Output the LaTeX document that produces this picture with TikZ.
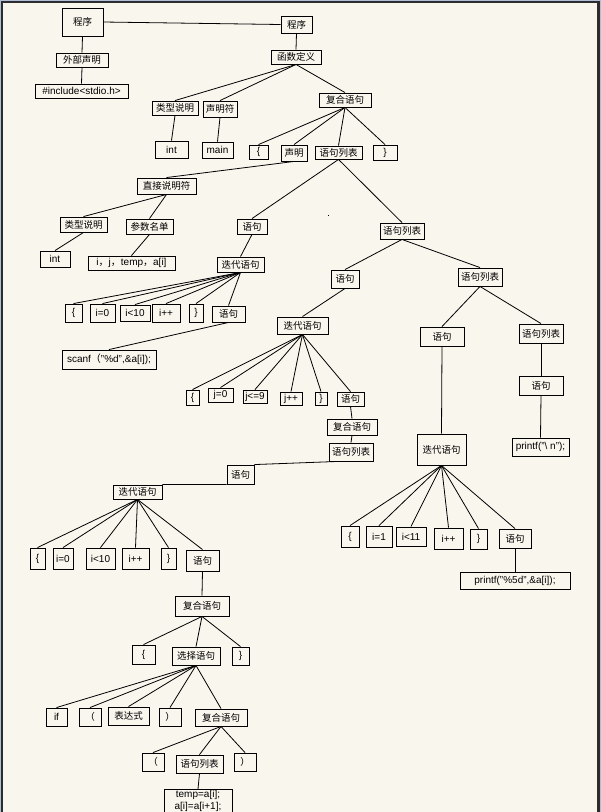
\documentclass[tikz,border=0pt]{standalone}
\usepackage{fontspec}
\setmainfont{Liberation Sans}
\newfontfamily\cjk{Noto Sans CJK SC}
\usetikzlibrary{calc}
\definecolor{cream}{RGB}{249,246,238}
\definecolor{framebl}{RGB}{176,190,218}
\definecolor{framedk}{RGB}{45,45,45}
\tikzset{
 bx/.style={draw=black, line width=0.9pt, inner sep=0pt},
 zh/.style={bx, font=\cjk\fontsize{9.5}{11}\selectfont},
 en/.style={bx, font=\fontsize{10}{12}\selectfont},
 edge/.style={draw=black, line width=0.8pt}
}
\newcommand\mybox[6]{\node[#1, minimum width=#4pt, minimum height=#5pt] (#2) at (#3) {#6};}
\begin{document}
\begin{tikzpicture}[x=1pt,y=-1pt]
\useasboundingbox (0,0) rectangle (601,812);
\clip (0,0) rectangle (601,812);
\fill[framebl] (0,0) rectangle (601,812);
\fill[framedk] (1.3,1.3) rectangle (599.7,812);
\fill[cream] (2.7,2.7) rectangle (597.3,812);
\fill[black] (327.5,214.5) rectangle (328.5,215.5);
% nodes
\mybox{zh}{p1}{82.5,22}{41}{28}{程序}
\mybox{zh}{p2}{296.5,24.5}{31}{17}{程序}
\mybox{zh}{wb}{82,60}{52}{14}{外部声明}
\mybox{en}{inc}{81.5,91}{93}{14}{\#include<stdio.h>}
\mybox{zh}{hs}{296,57}{50}{14}{函数定义}
\mybox{zh}{lx1}{175,108}{46}{14}{类型说明}
\mybox{zh}{sm}{220,109}{34}{16}{声明符}
\mybox{zh}{fh1}{345,100}{52}{14}{复合语句}
\mybox{en}{int1}{171.5,149.5}{33}{17}{int}
\mybox{en}{main}{217.5,150}{31}{16}{main}
\mybox{en}{lb1}{258.5,152}{19}{14}{\{}
\mybox{zh}{decl}{294,153}{26}{16}{声明}
\mybox{zh}{ylb1}{338.5,152.5}{47}{13}{语句列表}
\mybox{en}{rb1}{385,152.5}{24}{15}{\}}
\mybox{zh}{zj}{166.5,186}{59}{16}{直接说明符}
\mybox{zh}{lx2}{83.5,224.5}{47}{15}{类型说明}
\mybox{zh}{csm}{149.5,226.5}{47}{15}{参数名单}
\mybox{en}{int2}{55,259}{30}{16}{int}
\mybox{en}{ijt}{131.5,263}{87}{14}{i{\cjk，}j{\cjk，}temp{\cjk，}a[i]}
\mybox{zh}{yj1}{252,226.5}{30}{15}{语句}
\mybox{zh}{ylb2}{402,231}{44}{16}{语句列表}
\mybox{zh}{dd1}{240.5,264.5}{47}{15}{迭代语句}
\mybox{en}{c1a}{73.5,313}{17}{18}{\{}
\mybox{en}{c1b}{102.5,313}{25}{18}{i=0}
\mybox{en}{c1c}{135,313}{30}{16}{i<10}
\mybox{en}{c1d}{166,313}{28}{18}{i++}
\mybox{en}{c1e}{196,313}{14}{18}{\}}
\mybox{zh}{c1f}{228.5,314}{33}{16}{语句}
\mybox{en}{scanf}{109,359.5}{94}{19}{scanf{\cjk（}"\%d",\&a[i]);}
\mybox{zh}{yj2}{345,279}{28}{18}{语句}
\mybox{zh}{ylb3}{480,277}{44}{18}{语句列表}
\mybox{zh}{dd2}{302.5,325.5}{51}{17}{迭代语句}
\mybox{zh}{yj3}{442,336.5}{44}{19}{语句}
\mybox{zh}{ylb4}{541,333.5}{44}{19}{语句列表}
\mybox{zh}{yj4}{541,385.5}{44}{19}{语句}
\mybox{en}{prn}{540.5,447}{57}{18}{printf("\textbackslash{} n");}
\mybox{en}{c2a}{192.5,397.5}{13}{15}{\{}
\mybox{en}{c2b}{220.5,395}{25}{14}{j=0}
\mybox{en}{c2c}{255,396.5}{24}{13}{j<=9}
\mybox{en}{c2d}{291,398.5}{22}{13}{j++}
\mybox{en}{c2e}{321,398.5}{12}{13}{\}}
\mybox{zh}{c2f}{350.5,399}{27}{14}{语句}
\mybox{zh}{fh2}{352,427}{50}{16}{复合语句}
\mybox{zh}{ylb5}{351,452}{44}{18}{语句列表}
\mybox{zh}{yj5}{240.5,474.5}{27}{19}{语句}
\mybox{zh}{dd3}{441.5,449.5}{49}{31}{迭代语句}
\mybox{zh}{dd4}{137.5,492}{49}{14}{迭代语句}
\mybox{en}{c3a}{350,536.5}{18}{21}{\{}
\mybox{en}{c3b}{379,536.5}{26}{21}{i=1}
\mybox{en}{c3c}{411,536.5}{30}{19}{i<11}
\mybox{en}{c3d}{448.5,538.5}{29}{21}{i++}
\mybox{en}{c3e}{478.5,539}{17}{20}{\}}
\mybox{zh}{c3f}{515,538.5}{32}{19}{语句}
\mybox{en}{prn2}{515,580.5}{110}{17}{printf("\%5d",\&a[i]);}
\mybox{en}{c4a}{37.5,558.5}{15}{21}{\{}
\mybox{en}{c4b}{63,558.5}{20}{21}{i=0}
\mybox{en}{c4c}{100.5,558.5}{29}{21}{i<10}
\mybox{en}{c4d}{135.5,558.5}{27}{21}{i++}
\mybox{en}{c4e}{168.5,558.5}{15}{21}{\}}
\mybox{zh}{c4f}{202.5,560.5}{33}{21}{语句}
\mybox{zh}{fh3}{202,606}{54}{20}{复合语句}
\mybox{en}{c5a}{143.5,654.5}{23}{19}{\{}
\mybox{zh}{xz}{196,656}{48}{18}{选择语句}
\mybox{en}{c5c}{240.5,656}{17}{18}{\}}
\mybox{en}{ifn}{56.5,717}{21}{18}{if}
\mybox{zh}{lp}{90,717}{22}{18}{（}
\mybox{zh}{bds}{128.5,716}{41}{18}{表达式}
\mybox{zh}{rp}{170,717}{22}{18}{）}
\mybox{zh}{fh4}{221,717.5}{52}{17}{复合语句}
\mybox{zh}{c6a}{153,762}{22}{18}{（}
\mybox{zh}{ylb6}{199.5,764}{47}{18}{语句列表}
\mybox{zh}{c6c}{245,762}{22}{18}{）}
\node[bx, anchor=north, font=\fontsize{10}{12}\selectfont] (tmp) at (198,789)
  {\parbox[c][42pt][t]{68pt}{\centering\vspace{0.5pt}temp=a[i];\\a[i]=a[i+1];}};
% connectors
\draw[edge] (p1.east) -- (p2.west);
\draw[edge] (p1.south) -- (wb.north);
\draw[edge] (wb.south) -- (inc.north);
\draw[edge] (p2.south) -- (hs.north);
\foreach \c in {lx1,sm,fh1} \draw[edge] (hs.south) -- (\c.north);
\draw[edge] (lx1.south) -- (int1.north);
\draw[edge] (sm.south) -- (main.north);
\foreach \c in {lb1,decl,ylb1,rb1} \draw[edge] (fh1.south) -- (\c.north);
\draw[edge] (decl.south) -- (zj.north);
\foreach \c in {lx2,csm} \draw[edge] (zj.south) -- (\c.north);
\draw[edge] (lx2.south) -- (int2.north);
\draw[edge] (csm.south) -- (ijt.north);
\foreach \c in {yj1,ylb2} \draw[edge] (ylb1.south) -- (\c.north);
\draw[edge] (yj1.south) -- (dd1.north);
\foreach \c in {c1a,c1b,c1c,c1d,c1e,c1f} \draw[edge] (dd1.south) -- (\c.north);
\draw[edge] (c1f.south) -- (scanf.north);
\foreach \c in {yj2,ylb3} \draw[edge] (ylb2.south) -- (\c.north);
\draw[edge] (yj2.south) -- (dd2.north);
\foreach \c in {yj3,ylb4} \draw[edge] (ylb3.south) -- (\c.north);
\draw[edge] (yj3.south) -- (dd3.north);
\draw[edge] (ylb4.south) -- (yj4.north);
\draw[edge] (yj4.south) -- (prn.north);
\foreach \c in {c2a,c2b,c2c,c2d,c2e,c2f} \draw[edge] (dd2.south) -- (\c.north);
\draw[edge] (c2f.south) -- (fh2.north);
\draw[edge] (fh2.south) -- (ylb5.north);
\draw[edge] ($(ylb5.south)+(-13,0)$) -- (yj5.north east);
\draw[edge] (yj5.south west) -- (dd4.north east);
\foreach \c in {c3a,c3b,c3c,c3d,c3e,c3f} \draw[edge] (dd3.south) -- (\c.north);
\draw[edge] (c3f.south) -- (prn2.north);
\foreach \c in {c4a,c4b,c4c,c4d,c4e,c4f} \draw[edge] (dd4.south) -- (\c.north);
\draw[edge] (c4f.south) -- (fh3.north);
\foreach \c in {c5a,xz,c5c} \draw[edge] (fh3.south) -- (\c.north);
\foreach \c in {ifn,lp,bds,rp,fh4} \draw[edge] (xz.south) -- (\c.north);
\foreach \c in {c6a,ylb6,c6c} \draw[edge] (fh4.south) -- (\c.north);
\draw[edge] (ylb6.south) -- (tmp.north);
\end{tikzpicture}
\end{document}
